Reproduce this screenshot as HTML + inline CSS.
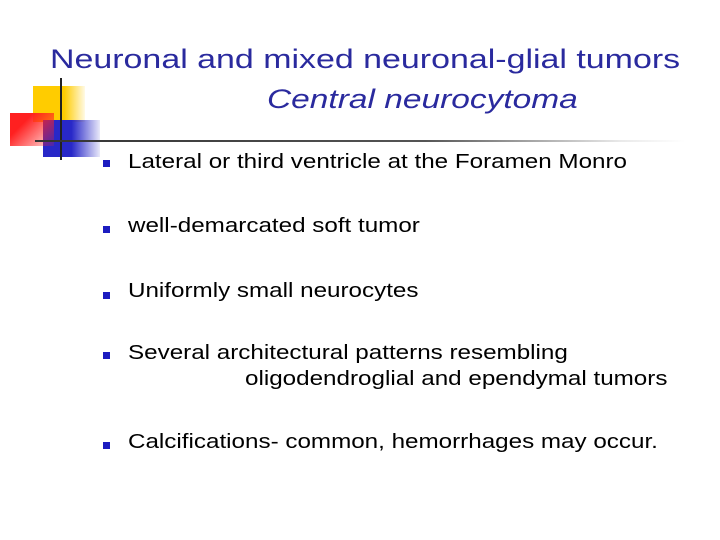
<!DOCTYPE html>
<html><head><style>
body{margin:0;width:720px;height:540px;background:#fff;position:relative;overflow:hidden;font-family:"Liberation Sans",sans-serif}
div{position:absolute}
.t{color:#2a2a9e;font-size:27px;white-space:nowrap;transform-origin:0 0}
.b{font-size:20px;color:#000;white-space:nowrap;transform:scaleX(1.21);transform-origin:0 0}
.sq{width:7px;height:7px;background:#1c1cc0}
</style></head><body>
<div style="left:33px;top:86px;width:52px;height:36px;background:linear-gradient(90deg,#ffcc00 60%,rgba(255,204,0,0.1))"></div>
<div style="left:43px;top:120px;width:57px;height:37px;background:linear-gradient(90deg,#2828c8 50%,rgba(40,40,200,0.1))"></div>
<div style="left:10px;top:113px;width:44px;height:33px;background:linear-gradient(135deg,#ff2020 30%,rgba(255,40,40,0.15))"></div>
<div style="left:60px;top:78px;width:2px;height:82px;background:#222"></div>
<div style="left:35px;top:140px;width:650px;height:2px;background:linear-gradient(90deg,#333 0%,#555 60%,rgba(200,200,200,0.4) 90%,rgba(255,255,255,0))"></div>
<div class="t" style="left:50px;top:44px;transform:scaleX(1.257)">Neuronal and mixed neuronal-glial tumors</div>
<div class="t" style="left:267px;top:84px;font-style:italic;transform:scaleX(1.24)">Central neurocytoma</div>
<div class="sq" style="left:103px;top:160px"></div><div class="b" style="left:128px;top:151px">Lateral or third ventricle at the Foramen Monro</div>
<div class="sq" style="left:103px;top:226px"></div><div class="b" style="left:128px;top:215px">well-demarcated soft tumor</div>
<div class="sq" style="left:103px;top:292px"></div><div class="b" style="left:128px;top:280px">Uniformly small neurocytes</div>
<div class="sq" style="left:103px;top:352px"></div><div class="b" style="left:128px;top:342px">Several architectural patterns resembling</div>
<div class="b" style="left:245px;top:368px">oligodendroglial and ependymal tumors</div>
<div class="sq" style="left:103px;top:442px"></div><div class="b" style="left:128px;top:431px">Calcifications- common, hemorrhages may occur.</div>
</body></html>
